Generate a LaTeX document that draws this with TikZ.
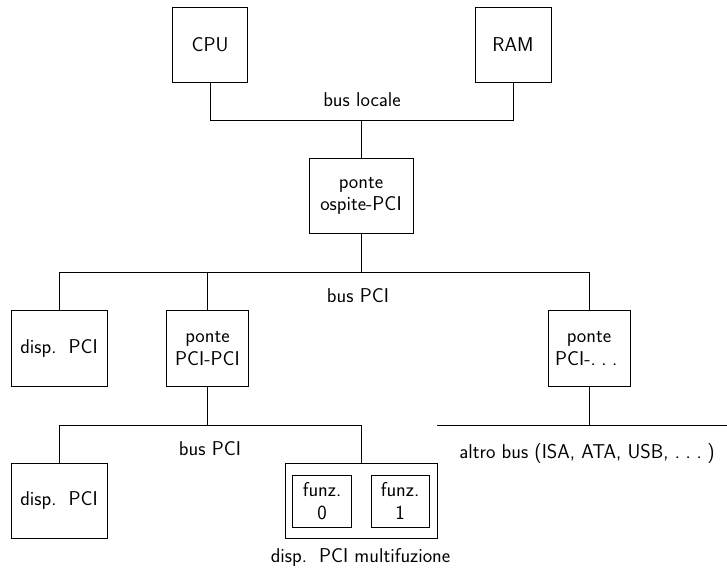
\documentclass[tikz,border=0pt]{standalone}
\newcommand{\mydots}{.\kern0.28em.\kern0.28em.\kern0.28em}
\newcommand{\dispgap}{\hspace{0.6em}}
\begin{document}
\begin{tikzpicture}[x=1pt,y=-1pt,line width=0.9pt,
  every node/.style={font=\fontsize{20}{22.5}\selectfont\sffamily,align=center,inner sep=0pt},
  box/.style={draw,minimum width=#1,minimum height=76pt},
  fbox/.style={draw,minimum width=59pt,minimum height=52pt}]
\useasboundingbox (0,0) rectangle (727,568);
\node[box=75pt,minimum height=75pt] (cpu) at (210,44.5) {CPU};
\node[box=76pt,minimum height=75pt] (ram) at (513,44.5) {RAM};
\node[box=104pt,minimum height=75pt] (host) at (361,196) {ponte\\ospite-PCI};
\coordinate (lbL) at (210,120.7);
\coordinate (lbR) at (513,120.7);
\coordinate (lbM) at (361,120.7);
\draw (cpu.south) -- (lbL) -- (lbR) -- (ram.south);
\draw (lbM) -- (host.north);
\node (lblLocal) at (362,100) {bus locale};

\node[box=96pt] (disp1) at (59,348.7) {disp.\dispgap PCI};
\node[box=82pt] (ppci) at (207.5,348.7) {ponte\\PCI-PCI};
\node[box=82pt] (pother) at (589,348.7) {ponte\\PCI-\mydots};
\coordinate (pbL) at (59,272.7);
\coordinate (pbR) at (589,272.7);
\coordinate (pbM) at (361,272.7);
\coordinate (pbP) at (207.5,272.7);
\draw (disp1.north) -- (pbL) -- (pbR) -- (pother.north);
\draw (host.south) -- (pbM);
\draw (pbP) -- (ppci.north);
\node (lblPCI1) at (358,296) {bus PCI};

\coordinate (abL) at (437,425);
\coordinate (abR) at (727,425);
\coordinate (abM) at (589,425);
\draw (abL) -- (abR);
\draw (pother.south) -- (abM);
\node (lblAltro) at (587,453) {altro bus (ISA, ATA, USB, \mydots)};

\node[box=96pt,minimum height=75pt] (disp2) at (59,500.5) {disp.\dispgap PCI};
\node[box=152pt,minimum height=75pt] (multi) at (361,500.5) {};
\node[fbox] (f0) at (322,501) {funz.\\0};
\node[fbox,minimum width=58pt] (f1) at (400,501) {funz.\\1};
\coordinate (qbL) at (59,425);
\coordinate (qbR) at (361,425);
\coordinate (qbP) at (207.5,425);
\draw (disp2.north) -- (qbL) -- (qbR) -- (multi.north);
\draw (ppci.south) -- (qbP);
\node (lblPCI2) at (210,449) {bus PCI};
\node (lblMulti) at (360.5,557) {disp.\dispgap PCI multifuzione};
\end{tikzpicture}
\end{document}
